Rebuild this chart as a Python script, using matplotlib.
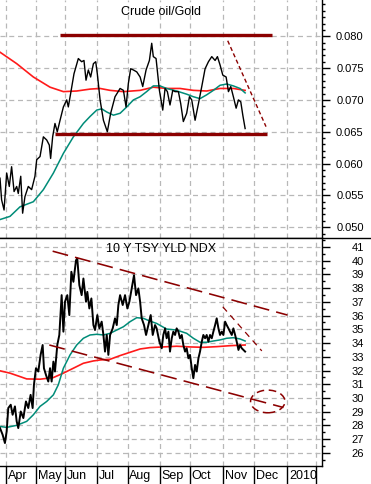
import matplotlib
matplotlib.use('Agg')
import matplotlib.pyplot as plt
from matplotlib.patches import Ellipse
from matplotlib.lines import Line2D
from matplotlib.ticker import MultipleLocator, FixedLocator, FormatStrFormatter
from matplotlib.transforms import blended_transform_factory

plt.rcParams['font.family'] = ['Liberation Sans', 'DejaVu Sans']

# x axis: trading-session index (0 = left edge, late March 2009)
month_ticks = [4, 25, 45, 67, 88, 110, 131, 154, 175, 198, 218]
month_labels = ['Apr', 'May', 'Jun', 'Jul', 'Aug', 'Sep', 'Oct', 'Nov', 'Dec', '2010']

# ---------------- Crude oil / Gold ----------------
oil_t = [0.0, 1.1, 2.8, 4.6, 6.4, 8.0, 9.7, 11.5, 12.6, 14.3, 15.6, 17.2, 19.5, 21.8, 24.1, 25.3,
         27.6, 29.9, 32.2, 34.0, 34.9, 36.3, 37.9, 39.5, 41.4, 43.7, 46.0, 47.1, 48.7, 51.0, 54.0,
         56.3, 57.9, 59.3, 60.9, 62.5, 64.4, 66.0, 67.1, 69.0, 71.3, 74.0, 76.3, 79.3, 82.8, 85.1,
         86.9, 88.5, 90.1, 92.0, 94.3, 96.6, 98.4, 100.7, 103.0, 104.6, 105.7, 107.6, 109.9, 112.2,
         113.8, 115.4, 117.2, 119.1, 120.7, 123.0, 124.6, 126.4, 128.7, 130.6, 132.2, 134.5, 136.8,
         139.1, 141.4, 143.7, 146.0, 148.3, 149.9, 151.7, 153.6, 155.9, 157.5, 159.1, 160.9, 162.8,
         164.4, 166.0, 167.4, 169.0]
oil_v = [0.0577, 0.0543, 0.0527, 0.0585, 0.0564, 0.0595, 0.0556, 0.0564, 0.0553, 0.0580, 0.0522,
         0.0548, 0.0564, 0.0559, 0.0580, 0.0606, 0.0611, 0.0642, 0.0637, 0.0629, 0.0608, 0.0642,
         0.0663, 0.0650, 0.0668, 0.0689, 0.0700, 0.0689, 0.0710, 0.0741, 0.0765, 0.0760, 0.0762,
         0.0731, 0.0747, 0.0736, 0.0757, 0.0760, 0.0741, 0.0700, 0.0668, 0.0650, 0.0679, 0.0705,
         0.0718, 0.0715, 0.0689, 0.0726, 0.0749, 0.0747, 0.0744, 0.0736, 0.0721, 0.0747, 0.0762,
         0.0789, 0.0768, 0.0765, 0.0715, 0.0684, 0.0718, 0.0713, 0.0692, 0.0715, 0.0713, 0.0713,
         0.0694, 0.0666, 0.0679, 0.0705, 0.0700, 0.0668, 0.0694, 0.0721, 0.0749, 0.0760, 0.0768,
         0.0762, 0.0768, 0.0755, 0.0739, 0.0736, 0.0713, 0.0721, 0.0705, 0.0687, 0.0700, 0.0697,
         0.0676, 0.0655]

oil_ma_long_t = [0, 11.5, 23.0, 34.5, 43.7, 52.9, 62.1, 69.0, 75.9, 85.1, 96.6, 105.7, 114.9,
                 124.1, 133.3, 142.5, 151.7, 160.9, 169.0]
oil_ma_long_v = [0.0775, 0.0757, 0.0736, 0.0720, 0.0713, 0.0714, 0.0717, 0.0718, 0.0715, 0.0713,
                 0.0715, 0.0720, 0.0718, 0.0718, 0.0715, 0.0714, 0.0718, 0.0718, 0.0715]

oil_ma_short_t = [0, 6.9, 13.8, 23.0, 29.9, 36.8, 43.7, 50.6, 57.5, 62.1, 66.7, 70.1, 73.6, 78.2,
                  82.8, 87.4, 92.0, 96.6, 101.1, 105.7, 110.3, 114.9, 121.8, 128.7, 133.3, 137.9,
                  142.5, 147.1, 151.7, 156.3, 160.9, 165.5, 169.0]
oil_ma_short_v = [0.0512, 0.0517, 0.0532, 0.0540, 0.0559, 0.0585, 0.0616, 0.0642, 0.0663, 0.0674,
                  0.0684, 0.0686, 0.0681, 0.0676, 0.0679, 0.0689, 0.0700, 0.0705, 0.0713, 0.0722,
                  0.0722, 0.0718, 0.0714, 0.0709, 0.0705, 0.0702, 0.0708, 0.0715, 0.0723, 0.0725,
                  0.0722, 0.0718, 0.0711]

oil_top_level = 0.0802
oil_top_span = [41.4, 187.4]
oil_bottom_level = 0.0646
oil_bottom_span = [37.9, 183.9]
oil_trend_t = [157.0, 183.4]
oil_trend_v = [0.0793, 0.0658]

# ---------------- 10 Y TSY YLD NDX ----------------
tsy_t = [0.0, 1.8, 3.4, 4.6, 5.7, 7.4, 8.7, 10.3, 11.5, 12.6, 14.3, 16.1, 17.9, 19.5, 21.1, 22.5,
         23.4, 24.8, 26.4, 28.0, 29.4, 30.3, 31.7, 33.3, 34.5, 35.6, 36.8, 37.9, 39.5, 40.9, 42.5,
         43.7, 44.8, 46.4, 47.8, 49.2, 50.6, 52.4, 53.3, 54.7, 56.3, 57.5, 59.3, 60.2, 61.6, 63.0,
         64.4, 65.5, 67.1, 68.5, 70.1, 71.3, 72.4, 73.6, 74.7, 75.9, 77.7, 79.3, 80.5, 81.6, 82.8,
         84.6, 86.2, 87.8, 89.2, 90.8, 92.4, 93.8, 95.4, 96.6, 97.7, 99.3, 100.7, 102.3, 103.9,
         105.3, 106.9, 108.0, 109.9, 111.5, 112.6, 113.8, 114.9, 116.1, 117.2, 118.4, 119.5, 120.7,
         121.8, 123.0, 124.1, 125.3, 126.4, 127.6, 128.7, 129.9, 131.0, 132.2, 133.3, 134.5, 135.6,
         136.8, 137.9, 139.1, 140.2, 141.4, 142.5, 143.7, 144.8, 146.0, 147.1, 148.3, 149.4, 150.6,
         151.7, 152.9, 154.0, 155.2, 156.3, 157.5, 158.6, 159.8, 160.9, 162.1, 163.2, 164.4, 165.5,
         166.7, 167.8, 169.0]
tsy_v = [27.81, 27.33, 26.72, 27.57, 29.27, 29.51, 28.78, 29.39, 28.30, 27.81, 29.02, 28.54, 29.75,
         29.27, 30.23, 29.27, 30.96, 32.17, 31.93, 33.14, 33.86, 32.17, 31.68, 31.20, 32.17, 31.20,
         32.65, 31.93, 33.86, 34.59, 37.49, 34.83, 37.01, 37.49, 36.04, 39.19, 38.46, 40.03, 40.15,
         38.22, 37.49, 38.70, 37.01, 37.73, 36.52, 37.25, 35.31, 34.95, 36.04, 35.07, 35.56, 34.59,
         33.38, 34.59, 33.14, 34.59, 35.07, 35.80, 35.31, 36.77, 37.49, 36.77, 37.49, 36.52, 37.01,
         37.98, 38.94, 37.49, 37.98, 37.01, 35.80, 35.31, 34.59, 35.31, 36.04, 34.59, 35.31, 35.07,
         34.10, 33.62, 34.59, 35.07, 34.35, 34.83, 33.38, 34.35, 34.83, 34.59, 35.07, 34.83, 34.35,
         34.59, 33.86, 33.38, 33.62, 32.89, 33.14, 32.17, 31.44, 32.41, 31.93, 32.89, 33.38, 34.10,
         34.59, 34.35, 34.59, 34.10, 34.59, 34.35, 34.83, 35.31, 35.80, 35.07, 34.59, 34.83, 34.59,
         35.56, 35.31, 35.07, 34.83, 34.59, 35.07, 34.59, 34.10, 33.50, 33.86, 33.62, 33.50, 33.38]

tsy_ma_long_t = [0, 6.9, 13.8, 18.4, 27.6, 36.8, 43.7, 50.6, 57.5, 64.4, 69.0, 75.9, 82.8, 89.7,
                 96.6, 103.4, 112.6, 121.8, 131.0, 140.2, 149.4, 158.6, 169.0]
tsy_ma_long_v = [31.98, 31.81, 31.56, 31.39, 31.37, 31.49, 31.81, 32.17, 32.53, 32.70, 32.77, 32.82,
                 33.09, 33.33, 33.57, 33.67, 33.72, 33.77, 33.72, 33.69, 33.74, 33.81, 33.86]

tsy_ma_short_t = [0, 4.6, 11.5, 18.4, 23.0, 27.6, 32.2, 36.8, 40.2, 43.7, 48.3, 52.9, 57.5, 62.1,
                  66.7, 71.3, 75.9, 80.5, 85.1, 89.7, 94.3, 98.9, 103.4, 108.0, 114.9, 121.8, 128.7,
                  133.3, 137.9, 142.5, 147.1, 151.7, 156.3, 160.9, 165.5, 169.0]
tsy_ma_short_v = [27.93, 27.86, 28.01, 28.30, 28.78, 29.39, 29.75, 30.23, 30.96, 32.17, 33.14, 33.86,
                  34.35, 34.59, 34.64, 34.59, 34.71, 34.95, 35.19, 35.56, 35.85, 35.80, 35.60, 35.43,
                  35.02, 34.95, 34.71, 34.35, 34.06, 34.06, 34.15, 34.23, 34.35, 34.39, 34.30, 34.15]

tsy_upper_t = [36.3, 198.2]
tsy_upper_v = [40.69, 36.04]
tsy_lower_t = [34.0, 195.4]
tsy_lower_v = [33.86, 29.31]
tsy_short_t = [153.6, 180.5]
tsy_short_v = [36.64, 33.43]
tsy_circle_center = (184.6, 29.75)
tsy_circle_size = (23.7, 1.65)

# ---------------- styling ----------------
DARKRED = '#8b0000'
RED = '#ff1a1a'
TEAL = '#008c78'
GRID = '#b8b8b8'

W, H = 371, 484
fig = plt.figure(figsize=(W / 100, H / 100), dpi=100)
ax_right = 322 / W
ax1 = fig.add_axes([0, (H - 238) / H, ax_right, 238 / H])
ax2 = fig.add_axes([0, (H - 466) / H, ax_right, 228 / H])

for ax in (ax1, ax2):
    ax.set_xlim(0, 222)
    ax.yaxis.tick_right()
    for s in ('left', 'top'):
        ax.spines[s].set_visible(False)
    ax.spines['right'].set_linewidth(1.0)
    ax.spines['bottom'].set_linewidth(1.0)
    ax.xaxis.set_major_locator(FixedLocator(month_ticks))
    ax.grid(True, which='major', color=GRID, linestyle=(0, (4, 3)), linewidth=0.9)
    ax.set_axisbelow(True)
    ax.tick_params(axis='y', which='major', direction='out', length=6, width=1, pad=24,
                   labelsize=8, colors='black')
    ax.tick_params(axis='y', which='minor', direction='out', length=2.5, width=1)

ax1.tick_params(axis='x', length=0, labelbottom=False)
ax2.tick_params(axis='x', direction='out', length=13, width=1, labelbottom=False)

# top panel
ax1.set_ylim(0.0483, 0.0857)
ax1.yaxis.set_major_locator(FixedLocator([0.050, 0.055, 0.060, 0.065, 0.070, 0.075, 0.080]))
ax1.yaxis.set_minor_locator(MultipleLocator(0.001))
ax1.yaxis.set_major_formatter(FormatStrFormatter('%.3f'))
ax1.plot(oil_ma_long_t, oil_ma_long_v, color=RED, lw=1.2)
ax1.plot(oil_ma_short_t, oil_ma_short_v, color=TEAL, lw=1.1)
ax1.plot(oil_t, oil_v, color='black', lw=1.0)
ax1.hlines(oil_top_level, *oil_top_span, color=DARKRED, lw=2.4)
ax1.hlines(oil_bottom_level, *oil_bottom_span, color=DARKRED, lw=2.4)
ax1.plot(oil_trend_t, oil_trend_v, color=DARKRED, lw=1.0, linestyle=(0, (3, 2)))
ax1.text(0.5, 1 - 12 / 238, 'Crude oil/Gold', transform=ax1.transAxes, ha='center',
         va='center', fontsize=9)

# bottom panel
ax2.set_ylim(25.05, 41.65)
ax2.yaxis.set_major_locator(MultipleLocator(1))
ax2.yaxis.set_minor_locator(MultipleLocator(0.5))
ax2.yaxis.set_major_formatter(FormatStrFormatter('%d'))
ax2.plot(tsy_ma_long_t, tsy_ma_long_v, color=RED, lw=1.2)
ax2.plot(tsy_ma_short_t, tsy_ma_short_v, color=TEAL, lw=1.1)
ax2.plot(tsy_t, tsy_v, color='black', lw=1.4)
ax2.plot(tsy_upper_t, tsy_upper_v, color=DARKRED, lw=1.15, linestyle=(0, (10, 4.5)))
ax2.plot(tsy_lower_t, tsy_lower_v, color=DARKRED, lw=1.15, linestyle=(0, (10, 4.5)))
ax2.plot(tsy_short_t, tsy_short_v, color=DARKRED, lw=0.9, linestyle=(0, (5, 4)))
ax2.add_patch(Ellipse(tsy_circle_center, tsy_circle_size[0], tsy_circle_size[1], fill=False,
                      edgecolor=DARKRED, lw=1.1, linestyle=(0, (5, 3))))
ax2.text(0.5, 1 - 11 / 228, '10 Y TSY YLD NDX', transform=ax2.transAxes, ha='center',
         va='center', fontsize=9)

# right aligned y labels
for ax in (ax1, ax2):
    for lab in ax.get_yticklabels():
        lab.set_horizontalalignment('right')

# month labels under the bottom panel
trans = blended_transform_factory(ax2.transData, ax2.transAxes)
for t, lab in zip(month_ticks, month_labels):
    ax2.text(t + 1.2, -10 / 228, lab, transform=trans, ha='left', va='center', fontsize=9,
             clip_on=False)

# divider between panels across full width
fig.add_artist(Line2D([0, 1], [(H - 238) / H, (H - 238) / H], color='black', lw=1.0,
                      transform=fig.transFigure))

fig.savefig('out.png', dpi=100)
